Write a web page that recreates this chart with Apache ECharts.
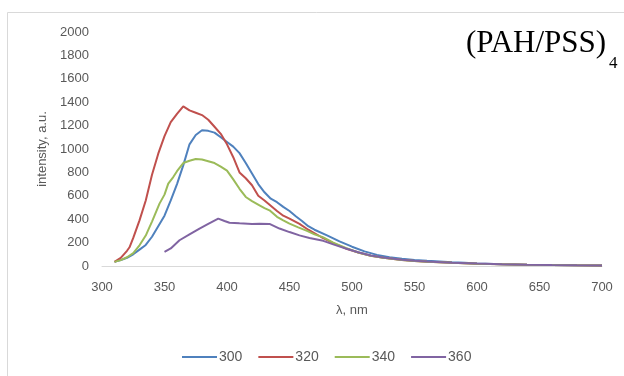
<!DOCTYPE html>
<html>
<head>
<meta charset="utf-8">
<script src="https://cdn.jsdelivr.net/npm/echarts@6/dist/echarts.min.js"></script>
<style>
  html, body { margin: 0; padding: 0; background: #fff; }
  #chart { width: 624px; height: 376px; }
</style>
</head>
<body>
<div id="chart"></div>
<script>
// excitation 300 nm
var wl300 = [310, 315, 320, 325, 330, 335, 340, 345, 350, 355, 360, 365, 370, 375, 380, 385, 390, 395, 400, 405, 410, 415, 420, 425, 430, 435, 440, 445, 450, 455, 460, 465, 470, 480, 490, 500, 510, 520, 530, 540, 550, 560, 570, 580, 590, 600, 620, 640, 660, 680, 700];
var int300 = [35, 50, 70, 100, 140, 180, 250, 340, 430, 560, 700, 860, 1040, 1120, 1160, 1155, 1140, 1100, 1060, 1020, 965, 880, 790, 700, 630, 575, 545, 505, 470, 425, 385, 340, 310, 262, 210, 165, 125, 95, 75, 62, 52, 44, 38, 32, 27, 22, 15, 11, 8, 6, 5];

// excitation 320 nm
var wl320 = [310, 315, 320, 322, 325, 330, 335, 340, 345, 350, 355, 360, 365, 370, 375, 380, 385, 390, 395, 400, 405, 410, 415, 420, 425, 430, 435, 440, 445, 450, 458, 465, 475, 485, 495, 505, 515, 525, 540, 550, 560, 580, 600, 620, 640, 660, 680, 700];
var int320 = [35, 70, 130, 160, 240, 390, 560, 780, 960, 1110, 1230, 1300, 1365, 1330, 1310, 1290, 1250, 1190, 1130, 1040, 930, 800, 750, 690, 600, 560, 515, 470, 430, 405, 360, 310, 250, 195, 150, 115, 88, 70, 52, 43, 36, 27, 20, 14, 10, 8, 6, 5];

// excitation 340 nm
var wl340 = [310, 315, 320, 325, 330, 335, 338, 340, 346, 350, 353, 357, 360, 365, 370, 375, 380, 385, 390, 395, 400, 405, 410, 415, 420, 426, 430, 434, 440, 445, 450, 457, 464, 470, 477, 485, 495, 505, 515, 525, 540, 550, 560, 580, 600, 620, 640, 660, 680, 700];
var int340 = [35, 50, 75, 110, 177, 260, 333, 380, 533, 610, 704, 760, 810, 880, 900, 915, 910, 895, 880, 850, 815, 740, 660, 590, 555, 519, 495, 476, 420, 390, 362, 330, 300, 270, 245, 200, 155, 115, 88, 70, 52, 43, 36, 27, 20, 14, 10, 8, 6, 5];

// excitation 360 nm
var wl360 = [350, 355, 362, 370, 378, 385, 393, 398, 402, 410, 420, 426, 434, 442, 450, 458, 466, 477, 485, 495, 505, 515, 525, 540, 550, 560, 580, 600, 620, 640, 660, 680, 700];
var int360 = [120, 150, 220, 270, 320, 360, 405, 385, 370, 365, 360, 362, 360, 320, 290, 262, 240, 215, 185, 150, 118, 90, 72, 54, 45, 38, 28, 21, 15, 11, 8, 6, 5];

var seriesNames = ['300', '320', '340', '360'];
var seriesColors = ['#4F81BD', '#C0504D', '#9BBB59', '#8064A2'];

function pairs(xs, ys) {
    return xs.map(function (x, i) { return [x, ys[i]]; });
}

var allData = [pairs(wl300, int300), pairs(wl320, int320), pairs(wl340, int340), pairs(wl360, int360)];

var labelFont = 'Liberation Sans';

var option = {
    animation: false,
    backgroundColor: '#fff',
    color: seriesColors,
    // 外框与标题
    graphic: [
        {
            type: 'rect',
            shape: { x: 7.5, y: 12.5, width: 700, height: 400 },
            style: { fill: 'none', stroke: '#d9d9d9', lineWidth: 1 }
        },
        {
            type: 'text',
            left: 466, top: 28,
            style: { text: '(PAH/PSS)', font: '31px "Liberation Serif"', fill: '#000' }
        },
        {
            type: 'text',
            left: 609, top: 55,
            style: { text: '4', font: '17px "Liberation Serif"', fill: '#000' }
        }
    ],
    grid: {
        left: 102,
        right: 22,
        top: 32,
        bottom: 110
    },
    xAxis: {
        type: 'value',
        min: 300,
        max: 700,
        interval: 50,
        name: 'λ, nm',
        nameLocation: 'middle',
        nameGap: 38,
        nameTextStyle: { color: '#595959', fontSize: 13, fontFamily: labelFont },
        axisLine: { show: true, lineStyle: { color: '#d9d9d9', width: 1 } },
        axisTick: { show: false },
        splitLine: { show: false },
        axisLabel: { color: '#595959', fontSize: 13, fontFamily: labelFont, margin: 15 }
    },
    yAxis: {
        type: 'value',
        min: 0,
        max: 2000,
        interval: 200,
        name: 'intensity, a.u.',
        nameLocation: 'middle',
        nameGap: 52,
        nameTextStyle: { color: '#595959', fontSize: 13, fontFamily: labelFont },
        axisLine: { show: false },
        axisTick: { show: false },
        splitLine: { show: false },
        axisLabel: {
            color: '#595959', fontSize: 13, fontFamily: labelFont, margin: 13,
            formatter: function (v) { return String(v); }
        }
    },
    legend: {
        bottom: 7,
        left: 177,
        icon: 'rect',
        itemWidth: 35,
        itemHeight: 2,
        itemGap: 16,
        textStyle: { color: '#595959', fontSize: 14, fontFamily: labelFont, padding: [0, 0, 0, -3] },
        data: seriesNames
    },
    series: seriesNames.map(function (name, i) {
        return {
            name: name,
            type: 'line',
            data: allData[i],
            showSymbol: false,
            symbol: 'none',
            smooth: false,
            lineStyle: { width: 2, color: seriesColors[i] },
            itemStyle: { color: seriesColors[i] }
        };
    })
};

var chart = echarts.init(document.getElementById('chart'));
chart.setOption(option);
</script>
</body>
</html>
